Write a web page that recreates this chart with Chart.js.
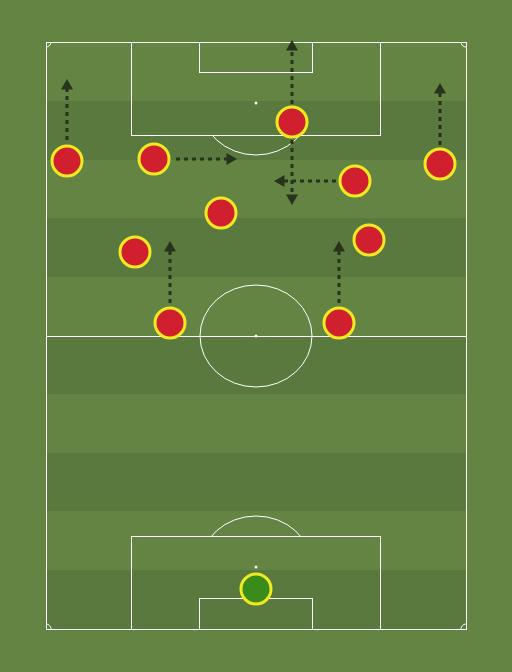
<!DOCTYPE html>
<html><head><meta charset="utf-8">
<script src="https://cdn.jsdelivr.net/npm/chart.js@4/dist/chart.umd.min.js"></script>
<style>html,body{margin:0;padding:0;background:#648444}canvas{display:block}</style>
</head><body>
<canvas id="c" width="512" height="672"></canvas>
<script>
// pitch coordinates (in picture units)
const stripeBands = [[101,160],[218,277],[336,394],[453,511],[570,629]];
const pitchRects = [[46,42,466,629],[131,42,380,135],[199,42,312,72],[131,536,380,629],[199,598,312,629]];
const pitchLines = [[46,336,466,336]];
const spots = [[256,103],[256,336],[256,567]];
const centerCircle = [256,336,56,51];
const boxArcs = [[256,103,56,52,135],[256,567,56,51,536]]; // cx,cy,rx,ry,clip y
const outfield = [{x:67,y:161},{x:154,y:159},{x:292,y:122},{x:355,y:181},{x:440,y:164},{x:221,y:213},{x:135,y:252},{x:369,y:240},{x:170,y:323},{x:339,y:323}];
const keeper = [{x:256,y:589}];
const arrows = [[67,140,67,86,0],[176,159,230,159,90],[292,104,292,47,0],[292,140,292,198,180],[336,181,281,181,270],[440,145,440,90,0],[170,303,170,248,0],[339,303,339,248,0]];

const pitchPlugin = {
  id:'pitch',
  beforeDatasetsDraw(chart){
    const {ctx,scales:{x,y}} = chart;
    const X=v=>x.getPixelForValue(v), Y=v=>y.getPixelForValue(v);
    ctx.save();
    ctx.fillStyle='#648444'; ctx.fillRect(0,0,chart.width,chart.height);
    ctx.fillStyle='#5a793f';
    stripeBands.forEach(([a,b])=>ctx.fillRect(X(46),Y(a),X(466)-X(46),Y(b)-Y(a)));
    ctx.strokeStyle='#ffffff'; ctx.lineWidth=1;
    pitchRects.forEach(([a,b,c,d])=>ctx.strokeRect(X(a)+.5,Y(b)+.5,X(c)-X(a),Y(d)-Y(b)));
    pitchLines.forEach(([a,b,c,d])=>{ctx.beginPath();ctx.moveTo(X(a),Y(b)+.5);ctx.lineTo(X(c),Y(d)+.5);ctx.stroke();});
    const [cx,cy,rx,ry]=centerCircle;
    ctx.beginPath();ctx.ellipse(X(cx),Y(cy),X(cx+rx)-X(cx),Y(cy+ry)-Y(cy),0,0,Math.PI*2);ctx.stroke();
    boxArcs.forEach(([ax,ay,rx2,ry2,clipY],i)=>{
      ctx.save();ctx.beginPath();
      if(i===0) ctx.rect(0,Y(clipY)+1,chart.width,200); else ctx.rect(0,0,chart.width,Y(clipY));
      ctx.clip();
      ctx.beginPath();ctx.ellipse(X(ax),Y(ay),X(ax+rx2)-X(ax),Y(ay+ry2)-Y(ay),0,0,Math.PI*2);ctx.stroke();
      ctx.restore();
    });
    [[46,42,0,Math.PI/2],[466,42,Math.PI/2,Math.PI],[46,629,-Math.PI/2,0],[466,629,Math.PI,Math.PI*1.5]].forEach(([a,b,s,e])=>{
      ctx.beginPath();ctx.arc(X(a),Y(b),5,s,e);ctx.stroke();});
    ctx.fillStyle='#ffffff';
    spots.forEach(([a,b])=>{ctx.beginPath();ctx.arc(X(a),Y(b),1.5,0,Math.PI*2);ctx.fill();});
    ctx.restore();
  }
};

const datasets = arrows.map(([a,b,c,d,r])=>({
  type:'line', data:[{x:a,y:b},{x:c,y:d}], borderColor:'#27331c', backgroundColor:'#27331c',
  borderWidth:3, borderDash:[4,4], pointRadius:[0,4], pointStyle:'triangle', pointRotation:r, fill:false
}));
datasets.push({type:'scatter', data:outfield, backgroundColor:'#d0202e', borderColor:'#f2ea20', borderWidth:3, pointRadius:15});
datasets.push({type:'scatter', data:keeper, backgroundColor:'#3a8c1a', borderColor:'#f2ea20', borderWidth:3, pointRadius:15});

new Chart(document.getElementById('c'),{
  type:'scatter',
  data:{datasets},
  options:{
    responsive:false, animation:false, layout:{padding:0, autoPadding:false},
    plugins:{legend:{display:false},tooltip:{enabled:false}},
    scales:{
      x:{type:'linear',min:0,max:512,display:false},
      y:{type:'linear',min:0,max:672,reverse:true,display:false}
    }
  },
  plugins:[pitchPlugin]
});
</script>
</body></html>
